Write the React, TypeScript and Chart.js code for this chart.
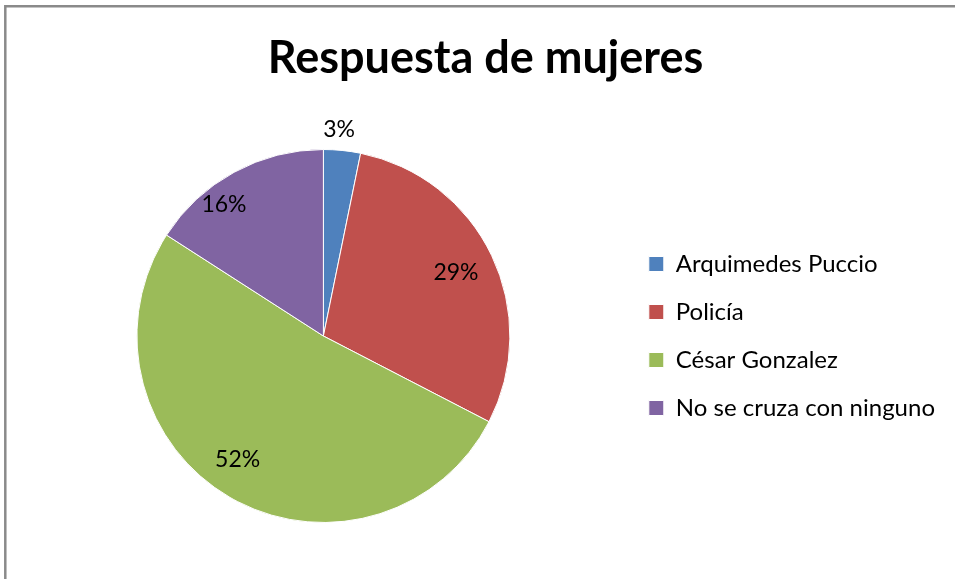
import React, { useEffect, useRef } from "react";
import { Chart, registerables } from "chart.js";

Chart.register(...registerables);

const titleText = "Respuesta de mujeres";
const categories = ["Arquimedes Puccio", "Policía", "César Gonzalez", "No se cruza con ninguno"];
const values = [3.2, 29.4, 51.5, 15.9];
const colors = ["#4F81BD", "#C0504D", "#9BBB59", "#8064A2"];

const FONT = "Lato, 'Open Sans', sans-serif";

const framePlugin = {
  id: "frame",
  beforeDraw(chart: any) {
    const ctx = chart.ctx;
    ctx.save();
    ctx.fillStyle = "#ffffff";
    ctx.fillRect(0, 0, chart.width, chart.height);
    ctx.strokeStyle = "#8a8a8a";
    ctx.lineWidth = 2.5;
    ctx.beginPath();
    ctx.moveTo(5.3, chart.height);
    ctx.lineTo(5.3, 6.2);
    ctx.lineTo(chart.width, 6.2);
    ctx.stroke();
    ctx.restore();
  },
};

// shift the title a little to the right (Excel centres it on a wider frame)
const titleShift = {
  id: "titleShift",
  afterLayout(chart: any) {
    const tb = chart.titleBlock;
    if (tb) {
      tb.left += 2;
      tb.right += 2;
    }
  },
};

// small label placement tweaks (Excel "best fit" placement), in px
const labelNudge = [
  [-5, -1],
  [-2, 1],
  [-11, -6],
  [-28, 0],
];

const labelPlugin = {
  id: "pctLabels",
  afterDatasetsDraw(chart: any) {
    const ctx = chart.ctx;
    const meta = chart.getDatasetMeta(0);
    const total = values.reduce((a, b) => a + b, 0);
    ctx.save();
    ctx.font = `23px ${FONT}`;
    ctx.fillStyle = "#000000";
    ctx.textAlign = "center";
    ctx.textBaseline = "middle";
    meta.data.forEach((arc: any, i: number) => {
      const { x, y, startAngle, endAngle, outerRadius } = arc.getProps(
        ["x", "y", "startAngle", "endAngle", "outerRadius"],
        true
      );
      const mid = (startAngle + endAngle) / 2;
      const pct = values[i] / total;
      const r = pct < 0.06 ? outerRadius + 20 : outerRadius * 0.8;
      const text = Math.round(pct * 100) + "%";
      const n = labelNudge[i] || [0, 0];
      ctx.fillText(text, x + Math.cos(mid) * r + n[0], y + Math.sin(mid) * r + n[1]);
    });
    ctx.restore();
  },
};

export default function App() {
  const ref = useRef<HTMLCanvasElement | null>(null);
  useEffect(() => {
    if (!ref.current) return;
    const chart = new Chart(ref.current, {
      type: "pie",
      data: {
        labels: categories,
        datasets: [
          {
            data: values,
            backgroundColor: colors,
            borderColor: "#ffffff",
            borderWidth: 1,
          },
        ],
      },
      options: {
        responsive: false,
        animation: false,
        layout: { padding: { left: 22, right: 10, top: 22, bottom: 56 } },
        plugins: {
          title: {
            display: true,
            text: titleText,
            color: "#000000",
            font: { family: FONT, size: 45, weight: "bold" },
            padding: { top: 9, bottom: 64 },
          },
          legend: {
            display: true,
            position: "right",
            fullSize: false,
            labels: {
              color: "#000000",
              font: { family: FONT, size: 24 },
              boxWidth: 15,
              boxHeight: 15,
              padding: 24,
            },
          },
          tooltip: { enabled: false },
        },
      },
      plugins: [framePlugin, titleShift, labelPlugin],
    });
    return () => chart.destroy();
  }, []);
  return (
    <div style={{ position: "fixed", left: 0, top: 0, width: 955, height: 579 }}>
      <canvas ref={ref} width={955} height={579} />
    </div>
  );
}
